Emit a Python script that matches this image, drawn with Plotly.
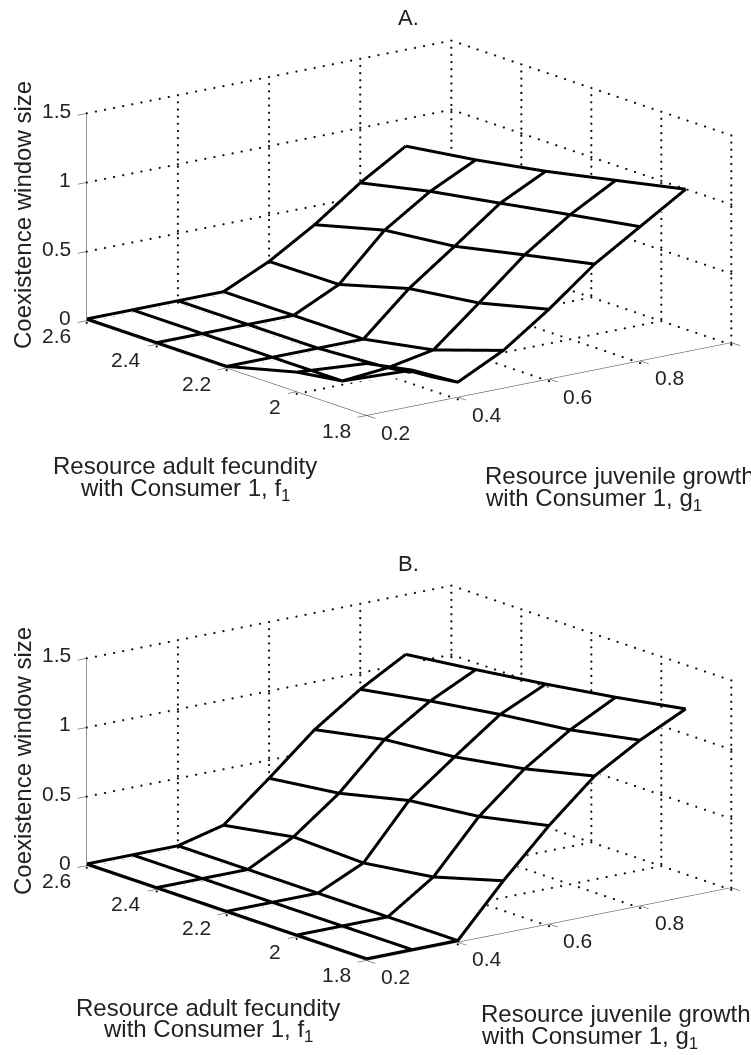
import numpy as np
import plotly.graph_objects as go

g_values = [0.2, 0.3, 0.4, 0.5, 0.6, 0.7, 0.8, 0.9]
f_values = [1.8, 2.0, 2.2, 2.4, 2.6]
z_a = [
    [0.364, 0.25, 0.097, 0.261, 0.493, 0.754, 0.959, 1.164],
    [0.13, 0.0, 0.03, 0.093, 0.367, 0.649, 0.874, 1.057],
    [0.0, 0.0, 0.0, 0.0, 0.30, 0.54, 0.786, 0.951],
    [0.0, 0.0, 0.0, 0.0, 0.158, 0.485, 0.70, 0.862],
    [0.0, 0.0, 0.0, 0.0, 0.153, 0.353, 0.59, 0.79],
]
z_b = [
    [0.0, 0.0, 0.0, 0.367, 0.70, 0.993, 1.187, 1.347],
    [0.0, 0.0, 0.0, 0.223, 0.595, 0.874, 1.09, 1.26],
    [0.0, 0.0, 0.0, 0.153, 0.539, 0.789, 1.03, 1.184],
    [0.0, 0.0, 0.0, 0.17, 0.42, 0.743, 0.956, 1.117],
    [0.0, 0.0, 0.0, 0.083, 0.357, 0.643, 0.869, 1.056],
]
g_ticks = [0.2, 0.4, 0.6, 0.8, 1.0]
g_labels = ["0.2", "0.4", "0.6", "0.8", "1"]
f_ticks = [1.8, 2.0, 2.2, 2.4, 2.6]
f_labels = ["1.8", "2", "2.2", "2.4", "2.6"]
z_ticks = [0, 0.5, 1, 1.5]
z_labels = ["0", "0.5", "1", "1.5"]

W, H = 751, 1055
FONT = "Liberation Sans"
TXT = "#222222"
G0, G1, F0, F1, Z0, Z1 = 0.2, 1.0, 1.8, 2.6, 0.0, 1.5
PAD_G, PAD_F, PAD_Z = 0.03, 0.03, 0.05
MESH_LIFT, SURF_DROP, FLOOR_DROP = 0.012, 0.01, 0.015
EYE = 3.0
ZOOM = 2.025


def line(xs, ys, zs, scene, color, width):
    return go.Scatter3d(x=xs, y=ys, z=zs, mode="lines", scene=scene, showlegend=False,
                        hoverinfo="skip", line=dict(color=color, width=width))


def dotted(segments, scene):
    xs, ys, zs = [], [], []
    for a, b, n in segments:
        t = np.linspace(0, 1, n)
        xs += list(a[0] + (b[0] - a[0]) * t)
        ys += list(a[1] + (b[1] - a[1]) * t)
        zs += list(a[2] + (b[2] - a[2]) * t)
    return go.Scatter3d(x=xs, y=ys, z=zs, mode="markers", scene=scene, showlegend=False, hoverinfo="skip",
                        marker=dict(color="#111111", size=1.3, line=dict(width=0)))


def add_panel(fig, z, scene, open_corner=False):
    z_arr = np.array(z, dtype=float)
    z_fill = z_arr - SURF_DROP
    if open_corner:
        # the mesh shows through the front fold of panel A: leave that one cell unfilled
        z_fill[0, 0] = np.nan
    fig.add_trace(go.Surface(x=g_values, y=f_values, z=z_fill, scene=scene, showscale=False,
                             colorscale=[[0, "white"], [1, "white"]], hoverinfo="skip",
                             lighting=dict(ambient=1, diffuse=0, specular=0, fresnel=0, roughness=1)))
    segs = []
    zf = Z0 - FLOOR_DROP
    for gv in g_ticks[1:]:
        segs.append(((gv, F0, zf), (gv, F1, zf), 33))      # floor lines along f
        segs.append(((gv, F1, Z0), (gv, F1, Z1), 30))      # back wall verticals
    for fv in f_ticks[1:-1]:
        segs.append(((G0, fv, zf), (G1, fv, zf), 41))      # floor lines along g
    for fv in f_ticks[:-1]:
        segs.append(((G1, fv, Z0), (G1, fv, Z1), 30))      # side wall verticals
    for zv in z_ticks:
        zz = zf if zv == 0 else zv
        segs.append(((G0, F1, zz), (G1, F1, zz), 41))
        segs.append(((G1, F1, zz), (G1, F0, zz), 33))
    fig.add_trace(dotted(segs, scene))
    ax_c, ax_w = "#555555", 1.2
    fig.add_trace(line([G0, G0], [F1, F1], [Z0, Z1], scene, ax_c, ax_w))
    fig.add_trace(line([G0, G0], [F1, F0], [Z0, Z0], scene, ax_c, ax_w))
    fig.add_trace(line([G0, G1], [F0, F0], [Z0, Z0], scene, ax_c, ax_w))
    for zv in z_ticks:
        fig.add_trace(line([G0, G0 - 0.02], [F1, F1], [zv, zv], scene, ax_c, ax_w))
    for fv in f_ticks:
        fig.add_trace(line([G0, G0 - 0.02], [fv, fv], [Z0, Z0], scene, ax_c, ax_w))
    for gv in g_ticks:
        fig.add_trace(line([gv, gv], [F0, F0 - 0.025], [Z0, Z0], scene, ax_c, ax_w))
    for row, fv in zip(z_arr + MESH_LIFT, f_values):
        fig.add_trace(line(g_values, [fv] * len(g_values), row, scene, "black", 6))
    for j, gv in enumerate(g_values):
        fig.add_trace(line([gv] * len(f_values), f_values, z_arr[:, j] + MESH_LIFT, scene, "black", 6))


def tick_annotations():
    out = []
    font = dict(family=FONT, size=21, color=TXT)
    for v, t in zip(z_ticks, z_labels):
        out.append(dict(x=G0, y=F1, z=v, text=t, showarrow=False, xanchor="right", yanchor="middle",
                        xshift=-14, yshift=3, font=font))
    for v, t in zip(f_ticks, f_labels):
        out.append(dict(x=G0, y=v, z=Z0, text=t, showarrow=False, xanchor="right", yanchor="middle",
                        xshift=-14, yshift=-15, font=font))
    for v, t in zip(g_ticks, g_labels):
        out.append(dict(x=v, y=F0, z=Z0, text=t, showarrow=False, xanchor="center", yanchor="middle",
                        xshift=29, yshift=-17, font=font))
    return out


def scene_layout(cy):
    half = 227
    ax = dict(showgrid=False, zeroline=False, showline=False, showticklabels=False, ticks="",
              showbackground=False, showspikes=False, title=dict(text=""))
    return dict(
        domain=dict(x=[67 / W, 751 / W], y=[1 - (cy + half) / H, 1 - (cy - half) / H]),
        xaxis=dict(ax, range=[G0 - PAD_G, G1 + PAD_G]),
        yaxis=dict(ax, range=[F0 - PAD_F, F1 + PAD_F]),
        zaxis=dict(ax, range=[Z0 - PAD_Z, Z1 + PAD_Z]),
        aspectmode="manual",
        aspectratio=dict(x=ZOOM * (G1 - G0 + 2 * PAD_G) / 0.8, y=ZOOM * (F1 - F0 + 2 * PAD_F) / 0.8,
                         z=ZOOM * 0.467 * (Z1 - Z0 + 2 * PAD_Z) / 1.5),
        camera=dict(projection=dict(type="orthographic"),
                    eye=dict(x=-0.588 * EYE, y=-0.766 * EYE, z=0.26 * EYE),
                    center=dict(x=0, y=0, z=0), up=dict(x=0, y=0, z=1)),
        annotations=tick_annotations(),
        bgcolor="white",
    )


def px(x, y, text, xanchor="center", size=24, angle=0):
    return dict(xref="paper", yref="paper", x=x / W, y=1 - y / H, text=text, showarrow=False,
                xanchor=xanchor, yanchor="middle", textangle=angle,
                font=dict(family=FONT, size=size, color=TXT))


fig = go.Figure()
add_panel(fig, z_a, "scene", open_corner=True)
add_panel(fig, z_b, "scene2")
fig.update_layout(
    width=W, height=H, autosize=False, margin=dict(l=0, r=0, t=0, b=0),
    paper_bgcolor="white", plot_bgcolor="white", showlegend=False,
    scene=scene_layout(228), scene2=scene_layout(772.5),
    annotations=[
        px(408, 18, "A.", size=22), px(408, 563, "B.", size=22),
        px(22, 215, "Coexistence window size", angle=-90),
        px(22, 761, "Coexistence window size", angle=-90),
        px(185, 465, "Resource adult fecundity"),
        px(185, 489, "with Consumer 1, f<sub>1</sub>"),
        px(208, 1007, "Resource adult fecundity"),
        px(208, 1030, "with Consumer 1, f<sub>1</sub>"),
        px(483, 475, "Resource juvenile growth", xanchor="left"),
        px(483, 499, "with Consumer 1, g<sub>1</sub>", xanchor="left"),
        px(479, 1013, "Resource juvenile growth", xanchor="left"),
        px(479, 1037, "with Consumer 1, g<sub>1</sub>", xanchor="left"),
    ],
)
fig.write_html("out.html", config={"displayModeBar": False},
               post_script="document.body.style.margin='0';document.body.style.overflow='hidden';")
